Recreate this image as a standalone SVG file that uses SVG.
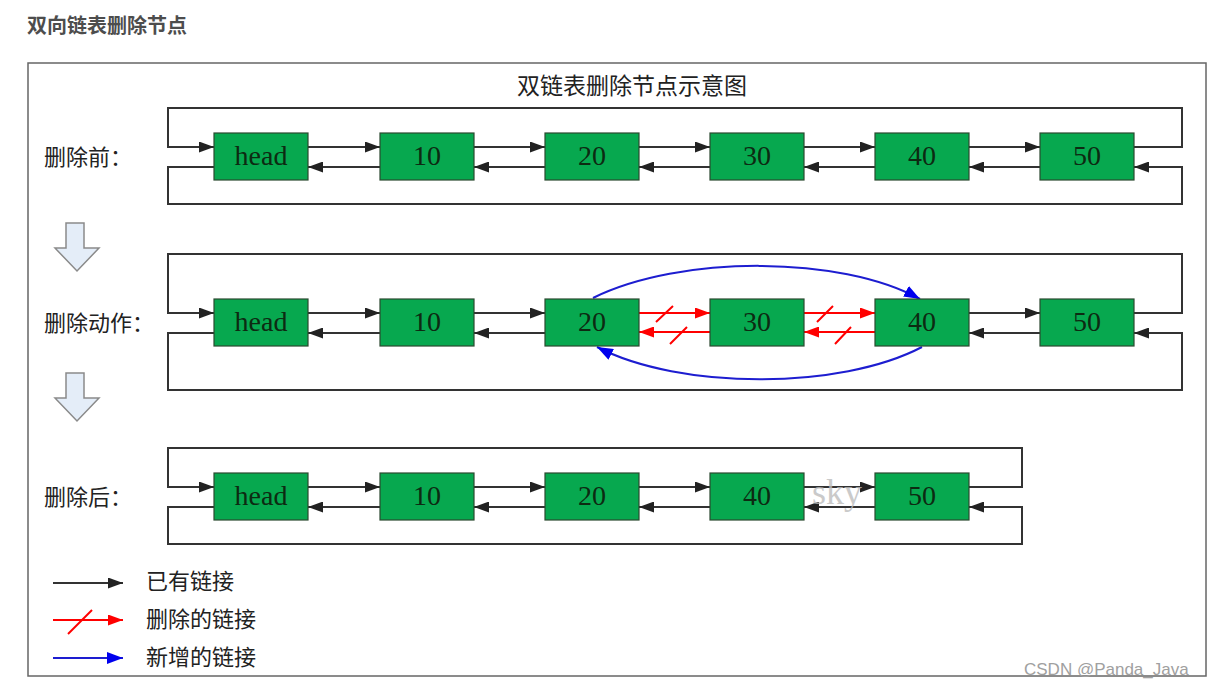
<svg xmlns="http://www.w3.org/2000/svg" width="1213" height="689" viewBox="0 0 1213 689">
<style>
.node rect{fill:#07a84f;stroke:#2b4a30;stroke-width:1.2}
.node text{font-family:"Liberation Serif",serif;font-size:28px;fill:#0d2a12;text-anchor:middle}
.lk{fill:none;stroke:#333;stroke-width:2}
.rd{fill:none;stroke:#f00;stroke-width:2}
.bl{fill:none;stroke:#1d1dd0;stroke-width:2}
.cn{font-family:"Noto Sans CJK SC","Noto Sans",sans-serif;font-size:22px;fill:#222}
.blk{fill:#e4edf8;stroke:#8a8a8a;stroke-width:1.5}
</style>
<defs>
<marker id="ab" markerUnits="userSpaceOnUse" markerWidth="15" markerHeight="11" refX="15" refY="5.5" orient="auto"><path d="M0,0 L15,5.5 L0,11 z" fill="#222"/></marker>
<marker id="ar" markerUnits="userSpaceOnUse" markerWidth="15" markerHeight="11" refX="15" refY="5.5" orient="auto"><path d="M0,0 L15,5.5 L0,11 z" fill="#f00"/></marker>
<marker id="au" markerUnits="userSpaceOnUse" markerWidth="16" markerHeight="12" refX="16" refY="6" orient="auto"><path d="M0,0 L16,6 L0,12 z" fill="#0000ee"/></marker>
</defs>
<rect width="1213" height="689" fill="#fff"/>
<text x="27" y="33" font-family="'Noto Sans CJK SC',sans-serif" font-size="20" font-weight="bold" fill="#4d4d4d">双向链表删除节点</text>
<rect x="28" y="63" width="1178" height="613" fill="none" stroke="#666" stroke-width="1.5"/>
<text x="632" y="94" class="cn" font-size="23" text-anchor="middle" style="font-size:23px">双链表删除节点示意图</text>

<g id="labels">
<text x="44" y="165" class="cn">删除前：</text>
<text x="44" y="331" class="cn">删除动作：</text>
<text x="44" y="505" class="cn">删除后：</text>
</g>

<g id="step-arrows">
<polygon class="blk" points="66,223 84,223 84,248 99,248 77,271 55,248 66,248"/>
<polygon class="blk" points="66,373 84,373 84,398 99,398 77,421 55,398 66,398"/>
</g>

<g id="connectors">
<!-- row 1 -->
<path class="lk" marker-end="url(#ab)" d="M308,147 H380"/>
<path class="lk" marker-end="url(#ab)" d="M473,147 H545"/>
<path class="lk" marker-end="url(#ab)" d="M639,147 H710"/>
<path class="lk" marker-end="url(#ab)" d="M804,147 H875"/>
<path class="lk" marker-end="url(#ab)" d="M969,147 H1040"/>
<path class="lk" marker-end="url(#ab)" d="M380,167 H308"/>
<path class="lk" marker-end="url(#ab)" d="M545,167 H474"/>
<path class="lk" marker-end="url(#ab)" d="M710,167 H639"/>
<path class="lk" marker-end="url(#ab)" d="M875,167 H804"/>
<path class="lk" marker-end="url(#ab)" d="M1040,167 H969"/>
<path class="lk" marker-end="url(#ab)" d="M1134,147 H1182 V108 H168 V147 H214"/>
<path class="lk" marker-end="url(#ab)" d="M214,167 H168 V204 H1182 V167 H1134"/>
<!-- row 2 -->
<path class="lk" marker-end="url(#ab)" d="M308,313 H380"/>
<path class="lk" marker-end="url(#ab)" d="M473,313 H545"/>
<path class="lk" marker-end="url(#ab)" d="M969,313 H1040"/>
<path class="lk" marker-end="url(#ab)" d="M380,333 H308"/>
<path class="lk" marker-end="url(#ab)" d="M545,333 H474"/>
<path class="lk" marker-end="url(#ab)" d="M1040,333 H969"/>
<path class="lk" marker-end="url(#ab)" d="M1134,313 H1182 V254 H168 V313 H214"/>
<path class="lk" marker-end="url(#ab)" d="M214,333 H168 V390 H1182 V333 H1134"/>
<path class="rd" marker-end="url(#ar)" d="M639,313 H710"/>
<path class="rd" marker-end="url(#ar)" d="M710,332 H639"/>
<path class="rd" marker-end="url(#ar)" d="M804,313 H875"/>
<path class="rd" marker-end="url(#ar)" d="M875,332 H804"/>
<path class="rd" d="M656,322 L673,306 M670,344 L687,327 M817,322 L833,306 M835,344 L851,327"/>
<path class="bl" marker-end="url(#au)" d="M593,298 C680,255 840,255 920,299"/>
<path class="bl" marker-end="url(#au)" d="M922,347 C840,390 680,390 597,347"/>
<!-- row 3 -->
<path class="lk" marker-end="url(#ab)" d="M308,487 H380"/>
<path class="lk" marker-end="url(#ab)" d="M473,487 H545"/>
<path class="lk" marker-end="url(#ab)" d="M639,487 H710"/>
<path class="lk" marker-end="url(#ab)" d="M804,487 H875"/>
<path class="lk" marker-end="url(#ab)" d="M380,507 H308"/>
<path class="lk" marker-end="url(#ab)" d="M545,507 H474"/>
<path class="lk" marker-end="url(#ab)" d="M710,507 H639"/>
<path class="lk" marker-end="url(#ab)" d="M875,507 H804"/>
<path class="lk" marker-end="url(#ab)" d="M969,487 H1022 V448 H168 V487 H214"/>
<path class="lk" marker-end="url(#ab)" d="M214,507 H168 V544 H1022 V507 H969"/>
</g>

<g id="r1-head" class="node"><rect x="214" y="133" width="94" height="47"/><text x="261" y="165">head</text></g>
<g id="r1-10" class="node"><rect x="380" y="133" width="94" height="47"/><text x="427" y="165">10</text></g>
<g id="r1-20" class="node"><rect x="545" y="133" width="94" height="47"/><text x="592" y="165">20</text></g>
<g id="r1-30" class="node"><rect x="710" y="133" width="94" height="47"/><text x="757" y="165">30</text></g>
<g id="r1-40" class="node"><rect x="875" y="133" width="94" height="47"/><text x="922" y="165">40</text></g>
<g id="r1-50" class="node"><rect x="1040" y="133" width="94" height="47"/><text x="1087" y="165">50</text></g>

<g id="r2-head" class="node"><rect x="214" y="299" width="94" height="47"/><text x="261" y="331">head</text></g>
<g id="r2-10" class="node"><rect x="380" y="299" width="94" height="47"/><text x="427" y="331">10</text></g>
<g id="r2-20" class="node"><rect x="545" y="299" width="94" height="47"/><text x="592" y="331">20</text></g>
<g id="r2-30" class="node"><rect x="710" y="299" width="94" height="47"/><text x="757" y="331">30</text></g>
<g id="r2-40" class="node"><rect x="875" y="299" width="94" height="47"/><text x="922" y="331">40</text></g>
<g id="r2-50" class="node"><rect x="1040" y="299" width="94" height="47"/><text x="1087" y="331">50</text></g>

<g id="r3-head" class="node"><rect x="214" y="473" width="94" height="47"/><text x="261" y="505">head</text></g>
<g id="r3-10" class="node"><rect x="380" y="473" width="94" height="47"/><text x="427" y="505">10</text></g>
<g id="r3-20" class="node"><rect x="545" y="473" width="94" height="47"/><text x="592" y="505">20</text></g>
<g id="r3-40" class="node"><rect x="710" y="473" width="94" height="47"/><text x="757" y="505">40</text></g>
<g id="r3-50" class="node"><rect x="875" y="473" width="94" height="47"/><text x="922" y="505">50</text></g>

<text x="812" y="504" font-family="'Liberation Serif',serif" font-size="36" fill="#bdbdbd" opacity="0.8">sky</text>

<g id="legend">
<path class="lk" marker-end="url(#ab)" d="M53,583 H123"/>
<text x="146" y="589" class="cn">已有链接</text>
<path class="rd" marker-end="url(#ar)" d="M53,620 H123"/>
<path class="rd" d="M68,634 L92,610"/>
<text x="146" y="627" class="cn">删除的链接</text>
<path class="bl" marker-end="url(#au)" d="M53,658 H123"/>
<text x="146" y="665" class="cn">新增的链接</text>
</g>

<text x="1024" y="675" font-family="'Liberation Sans',sans-serif" font-size="17" fill="#a0a0a0">CSDN @Panda_Java</text>
</svg>
